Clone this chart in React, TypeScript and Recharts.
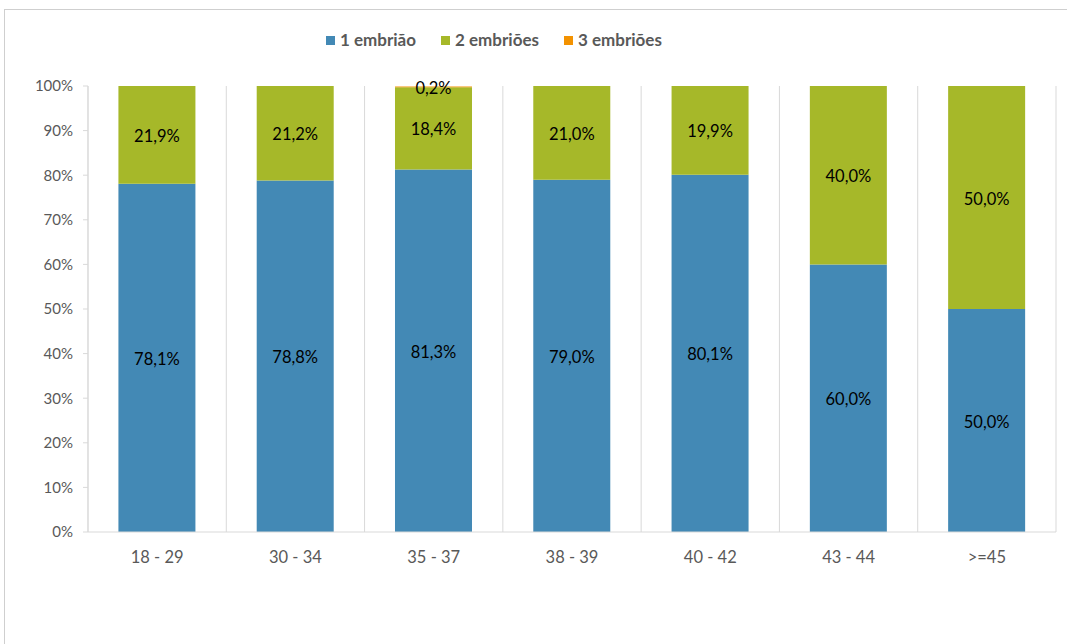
import React from 'react';
import { BarChart, Bar, XAxis, YAxis, CartesianGrid, LabelList } from 'recharts';

const categories = ['18 - 29', '30 - 34', '35 - 37', '38 - 39', '40 - 42', '43 - 44', '>=45'];
const oneEmbryo = [78.1, 78.8, 81.3, 79.0, 80.1, 60.0, 50.0];
const twoEmbryos = [21.9, 21.2, 18.4, 21.0, 19.9, 40.0, 50.0];
const threeEmbryos = [0, 0, 0.2, 0, 0, 0, 0];
const yTicks = [0, 10, 20, 30, 40, 50, 60, 70, 80, 90, 100];

const seriesNames = ['1 embrião', '2 embriões', '3 embriões'];
const colors = ['#4389B5', '#A6B829', '#F39200'];

const data = categories.map((c, i) => ({
  cat: c,
  s1: oneEmbryo[i],
  s2: twoEmbryos[i],
  s3: threeEmbryos[i],
}));

const FONT = 'Lato, "Open Sans", sans-serif';

const fmt = (v: number) => v.toFixed(1).replace('.', ',') + '%';

const SegLabel = (props: any) => {
  const { x, y, width, height, value } = props;
  if (!value) return null;
  return (
    <text
      x={x + width / 2}
      y={y + height / 2 + 1}
      textAnchor="middle"
      dominantBaseline="central"
      fill="#000"
      fontSize={16.5}
      fontFamily={FONT}
    >
      {fmt(value)}
    </text>
  );
};

const LegendBlock = () => (
  <div style={{ position: 'absolute', left: 326, top: 29, display: 'flex', gap: 25, fontFamily: FONT, fontSize: 17, fontWeight: 700, color: '#595959', lineHeight: '22px' }}>
    {seriesNames.map((n, i) => (
      <div key={n} style={{ display: 'flex', alignItems: 'center' }}>
        <span style={{ display: 'inline-block', width: 9, height: 9, background: colors[i], marginRight: 5 }} />
        <span>{n}</span>
      </div>
    ))}
  </div>
);

export default function App() {
  return (
    <div style={{ position: 'absolute', left: 0, top: 0, width: 1067, height: 644, background: '#fff', overflow: 'hidden' }}>
      <div style={{ position: 'absolute', left: 4, top: 9, width: 1100, height: 700, borderTop: '1px solid #cfcfcf', borderLeft: '1px solid #cfcfcf' }} />
      <div style={{ position: 'absolute', left: 0, top: 0 }}>
        <BarChart
          width={1067}
          height={644}
          data={data}
          margin={{ top: 86, right: 11, bottom: 82, left: 0 }}
          barCategoryGap="22%"
        >
          <CartesianGrid
            horizontal={false}
            stroke="#d9d9d9"
            verticalCoordinatesGenerator={({ offset }: any) => {
              const n = categories.length;
              const arr: number[] = [];
              for (let i = 0; i <= n; i++) arr.push(offset.left + (offset.width * i) / n);
              return arr;
            }}
          />
          <XAxis
            dataKey="cat"
            height={30}
            axisLine={{ stroke: '#d9d9d9' }}
            tickLine={false}
            tick={{ fill: '#595959', fontSize: 16.5, fontFamily: FONT }}
            tickMargin={13}
            interval={0}
          />
          <YAxis
            width={88}
            domain={[0, 100]}
            ticks={yTicks}
            allowDataOverflow
            tickFormatter={(v: number) => `${v}%`}
            axisLine={{ stroke: '#d9d9d9' }}
            tickLine={{ stroke: '#d9d9d9' }}
            tickSize={5}
            tickMargin={10}
            tick={{ fill: '#595959', fontSize: 15, fontFamily: FONT }}
          />
          <Bar dataKey="s1" stackId="a" fill={colors[0]} name={seriesNames[0]} isAnimationActive={false}>
            <LabelList dataKey="s1" content={<SegLabel />} />
          </Bar>
          <Bar dataKey="s2" stackId="a" fill={colors[1]} name={seriesNames[1]} isAnimationActive={false}>
            <LabelList dataKey="s2" content={<SegLabel />} />
          </Bar>
          <Bar dataKey="s3" stackId="a" fill={colors[2]} name={seriesNames[2]} isAnimationActive={false}>
            <LabelList dataKey="s3" content={<SegLabel />} />
          </Bar>
        </BarChart>
      </div>
      <LegendBlock />
    </div>
  );
}
